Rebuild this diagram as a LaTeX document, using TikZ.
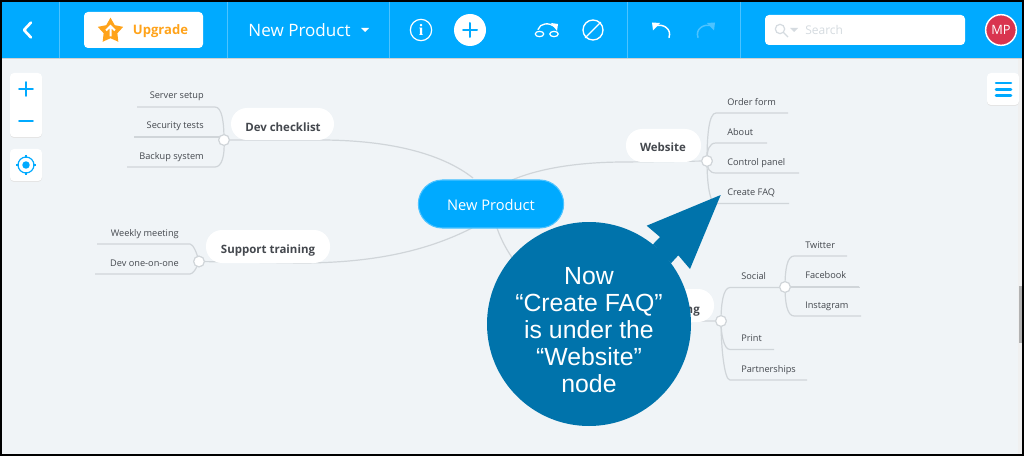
\documentclass[tikz,border=0pt]{standalone}
\usepackage{fontspec}
\setmainfont{Open Sans}
\newfontfamily\calloutfont{Liberation Sans}
\newfontfamily\infofont{Liberation Serif}
\usetikzlibrary{shapes.geometric}
\definecolor{barblue}{HTML}{00AAFF}
\definecolor{divblue}{HTML}{4DC3FF}
\definecolor{canvas}{HTML}{F0F4F7}
\definecolor{linkgray}{HTML}{D0D5D9}
\definecolor{calloutblue}{HTML}{0073AB}
\definecolor{txt}{HTML}{44484E}
\definecolor{orangeup}{HTML}{FFA31A}
\definecolor{avatarred}{HTML}{D9344F}
\definecolor{faint}{HTML}{D5DBE0}
\tikzset{
  x=0.75pt,y=-0.75pt,
  link/.style={draw=linkgray,line width=0.9pt},
  hubdot/.style={circle,draw=linkgray,fill=white,line width=0.8pt,inner sep=0pt,minimum size=8pt},
  branchbox/.style={fill=white,rounded corners=12pt,inner sep=0pt},
  branch/.style={inner sep=0pt,yshift=-1pt,text=txt,text height=6.6pt,text depth=1.8pt,font=\fontsize{8.6}{10}\selectfont\bfseries},
  leafl/.style={anchor=west,inner sep=0pt,yshift=-0.75pt,text=txt,text height=5.6pt,text depth=1.6pt,font=\fontsize{6.9}{9}\selectfont},
  leafr/.style={anchor=east,inner sep=0pt,yshift=-0.75pt,text=txt,text height=5.6pt,text depth=1.6pt,font=\fontsize{6.9}{9}\selectfont},
  panel/.style={fill=white,rounded corners=3pt},
  shade panel/.style={fill=black!10,rounded corners=3pt},
  divider/.style={draw=divblue,line width=0.5pt},
  icon/.style={draw=white,line width=1pt,line cap=round},
  tool/.style={draw=barblue,line width=1.3pt,line cap=round},
}
\begin{document}
\begin{tikzpicture}
\useasboundingbox (0,0) rectangle (1024,456);
\fill[black] (0,0) rectangle (1024,456);
\fill[canvas] (2,2) rectangle (1022,454);
\fill[black!6] (1018,58) rectangle (1022,454);
\fill[black!30] (1019,286) rectangle (1022,343);
% hubs
\node[hubdot] (hubdev) at (224,140) {};
\node[hubdot] (hubsup) at (199,261.5) {};
\node[hubdot] (hubweb) at (707,161) {};
\node[hubdot] (hubmkt) at (721,321) {};
\node[hubdot] (hubsoc) at (785,287) {};
\coordinate (cdev) at (473,178);
\coordinate (csup) at (472,228);
\coordinate (cweb) at (512,180);
\coordinate (cmkt) at (497,228);
\draw[link] (hubdev.center) -- (320,140) .. controls (385,140) and (440,152) .. (cdev);
\draw[link] (hubsup.center) -- (300,263) .. controls (370,263) and (425,252) .. (csup);
\draw[link] (hubweb.center) -- (625,162) .. controls (580,162) and (540,168) .. (cweb);
\draw[link] (hubmkt.center) -- (640,321) .. controls (570,321) and (515,280) .. (cmkt);
% leaves: coordinates of underline ends
\foreach \n/\a/\b/\y in {dsa/215/137/107,dsc/215/127/167,sua/190/97/244,sub/190/95/274}{\coordinate (\n s) at (\a,\y); \coordinate (\n e) at (\b,\y);}
\draw[link] (hubdev.center) .. controls (224,122) and (222,107) .. (dsas) -- (dsae);
\coordinate (dsbe) at (134,137);
\draw[link] (hubdev.center) -- (224,137) -- (dsbe);
\draw[link] (hubdev.center) .. controls (225,155) and (222,167) .. (dscs) -- (dsce);
\draw[link] (hubsup.center) .. controls (197,253) and (193,244) .. (suas) -- (suae);
\draw[link] (hubsup.center) .. controls (197,268) and (193,274) .. (subs) -- (sube);
\foreach \n/\a/\b/\y in {wa/716/788/113,wb/716/767/143,wc/716/799/173,wd/716/789/203.5}{\coordinate (\n s) at (\a,\y); \coordinate (\n e) at (\b,\y);}
\draw[link] (hubweb.center) .. controls (707,135) and (709,113) .. (was) -- (wae);
\draw[link] (hubweb.center) .. controls (707,150) and (709,143) .. (wbs) -- (wbe);
\draw[link] (hubweb.center) .. controls (707,168) and (709,173) .. (wcs) -- (wce);
\draw[link] (hubweb.center) .. controls (707,180) and (709,203.5) .. (wds) -- (wde);
\foreach \n/\a/\b/\y in {ma/730/785/287.5,mb/730/774/349.5,mc/730/807/380}{\coordinate (\n s) at (\a,\y); \coordinate (\n e) at (\b,\y);}
\draw[link] (hubmkt.center) .. controls (721,305) and (723,287.5) .. (mas) -- (mae);
\draw[link] (hubmkt.center) .. controls (721,335) and (724,349.5) .. (mbs) -- (mbe);
\draw[link] (hubmkt.center) .. controls (721,345) and (724,380) .. (mcs) -- (mce);
\foreach \n/\a/\b/\y in {sa/794/847/256,sb/794/859/286.5,sc/794/861/316}{\coordinate (\n s) at (\a,\y); \coordinate (\n e) at (\b,\y);}
\draw[link] (hubsoc.center) .. controls (785,270) and (787,256) .. (sas) -- (sae);
\draw[link] (hubsoc.center) -- (sbe |- hubsoc) -- (sbe);
\draw[link] (hubsoc.center) .. controls (785,302) and (787,316) .. (scs) -- (sce);
% hubs on top
\foreach \h in {hubdev,hubsup,hubweb,hubmkt,hubsoc}{\fill[white] (\h) circle (4pt); \draw[linkgray,line width=0.8pt] (\h) circle (4pt);}
% branch nodes
\node[branchbox,minimum width=77.25pt,minimum height=24pt] (ndev) at (282.5,124) {};
\node[branch] (tdev) at (283,126.5) {Dev checklist};
\node[branchbox,minimum width=93pt,minimum height=24.75pt] (nsup) at (268,246.5) {};
\node[branch] (tsup) at (268,249) {Support training};
\node[branchbox,minimum width=56.25pt,minimum height=24.75pt] (nweb) at (663.5,145.5) {};
\node[branch] (tweb) at (663,147) {Website};
\node[branchbox,minimum width=75pt,minimum height=24.75pt] (nmkt) at (664,305.5) {};
\node[branch,anchor=east] (tmkt) at (700,309) {Marketing};
% leaf labels
\node[leafr] (l1) at (204,94.5) {Server setup};
\node[leafr] (l2) at (204,125) {Security tests};
\node[leafr] (l3) at (204,155.5) {Backup system};
\node[leafr] (l4) at (179,232.5) {Weekly meeting};
\node[leafr] (l5) at (179,262.5) {Dev one-on-one};
\node[leafl] (l6) at (727,101.5) {Order form};
\node[leafl] (l7) at (727,131.5) {About};
\node[leafl] (l8) at (727,161.5) {Control panel};
\node[leafl] (l9) at (727,191.5) {Create FAQ};
\node[leafl] (l10) at (741,275.5) {Social};
\node[leafl] (l11) at (741,337.5) {Print};
\node[leafl] (l12) at (741,368.5) {Partnerships};
\node[leafl] (l13) at (805,244.5) {Twitter};
\node[leafl] (l14) at (805,274.5) {Facebook};
\node[leafl] (l15) at (805,304.5) {Instagram};
% centre node
\node[fill=barblue,draw=divblue,line width=0.8pt,rounded corners=18pt,minimum width=109pt,minimum height=36pt,inner sep=0pt] (root) at (491,204) {};
\node[inner sep=0pt,text=white,font=\fontsize{11}{13}\selectfont] (rootText) at (491,205) {New Product};
% top bar
\fill[black!18] (2,58) rectangle (1022,59.5);
\fill[barblue] (2,2) rectangle (1022,58);
\foreach \x in {59,227,389,627,740}{\draw[divider] (\x,2) -- (\x,58);}
\draw[icon,line width=2pt,line join=round] (31,22.5) -- (24,30) -- (31,37.5);
\node[fill=white,rounded corners=3pt,minimum width=89.25pt,minimum height=27pt,inner sep=0pt] (upg) at (143.5,30) {};
\node[star,star points=5,star point ratio=1.85,fill=orangeup,inner sep=0pt,minimum size=20pt] (ustar) at (110.5,31) {};
\draw[white,line width=1.5pt] (110.5,36.5) -- (110.5,27) (106,30.5) -- (110.5,26) -- (115,30.5);
\node[inner sep=0pt,text=orangeup,font=\fontsize{9.8}{11}\selectfont\bfseries] (tupg) at (160.5,31) {Upgrade};
\node[inner sep=0pt,text=white,font=\fontsize{12.8}{15}\selectfont] (title) at (299.5,30.5) {New Product};
\fill[white] (361,28) -- (369,28) -- (365,32) -- cycle;
\node[circle,draw=white,line width=0.9pt,minimum size=16pt,inner sep=0pt,text=white,font=\infofont\fontsize{12}{12}\selectfont\bfseries] (info) at (421,30) {i};
\node[circle,fill=white,minimum size=24pt,inner sep=0pt] (add) at (470,30) {};
\draw[tool,line width=1.5pt] (470,23) -- (470,37) (463,30) -- (477,30);
% relation icon
\draw[icon] (538,29.5) .. controls (540,23) and (549,22) .. (555,27);
\fill[white] (551,23) -- (558,24) -- (557,31) -- cycle;
\draw[white,line width=0.9pt] (539.5,34) ellipse (3.2pt and 2pt) (554,34) ellipse (3.2pt and 2pt);
\node[circle,draw=white,line width=1pt,minimum size=15pt,inner sep=0pt] (ban) at (593,30) {};
\draw[icon] (ban.45) -- (ban.225);
% undo/redo
\draw[icon,line width=1.1pt] (655,26) .. controls (663,23) and (672,29) .. (669,37.5);
\fill[white] (652,22.5) -- (660,23) -- (653,30.5) -- cycle;
\draw[icon,line width=1.1pt,divblue] (712,26) .. controls (704,23) and (695,29) .. (698,37.5);
\fill[divblue] (715,22.5) -- (707,23) -- (714,30.5) -- cycle;
% search
\node[fill=white,rounded corners=3pt,minimum width=150pt,minimum height=22.5pt,inner sep=0pt] (sbox) at (865,30) {};
\draw[faint,line width=0.9pt] (780,29) circle (3.5pt);
\draw[faint,line width=1pt] (783.5,32.5) -- (788,37);
\fill[faint] (790,28) -- (798,28) -- (794,32) -- cycle;
\node[anchor=west,inner sep=0pt,text=faint,font=\fontsize{9}{11}\selectfont] (tsearch) at (805,30.5) {Search};
\node[circle,fill=avatarred,draw=white,line width=1.1pt,minimum size=23pt,inner sep=0pt,text=white,font=\fontsize{9.6}{11}\selectfont] (avatar) at (1001,30) {MP};
% side panels
\fill[shade panel] (10,74) rectangle (42,138);
\fill[panel] (10,73) rectangle (42,137);
\draw[tool] (26,82) -- (26,96) (19,89) -- (33,89);
\draw[tool] (19,121) -- (33,121);
\fill[shade panel] (10,150) rectangle (42,182);
\fill[panel] (10,149) rectangle (42,181);
\draw[barblue,line width=0.9pt] (26,165) circle (6pt);
\fill[barblue] (26,165) circle (2.8pt);
\draw[barblue,line width=0.8pt] (26,155) -- (26,158) (26,172) -- (26,175) (16,165) -- (19,165) (33,165) -- (36,165);
\fill[shade panel] (987,74) rectangle (1019,106);
\fill[panel] (987,73) rectangle (1019,105);
\draw[barblue,line width=1.9pt,line cap=round] (996,83) -- (1011,83) (996,89.3) -- (1011,89.3) (996,95.6) -- (1011,95.6);
% callout
\fill[calloutblue] (720.7,195) -- (646.7,225.7) -- (660,237) -- (653,244.3) -- (671,263.3) -- (678.3,255.3) -- (690,269) -- cycle;
\node[circle,fill=calloutblue,minimum size=153pt,inner sep=0pt] (callout) at (589,324) {};
\node[inner sep=0pt,text=white,align=center,font=\calloutfont\fontsize{18.6}{20.3}\selectfont] (calloutText) at (589,330) {Now\\“Create FAQ”\\is under the\\“Website”\\node};
\end{tikzpicture}
\end{document}
